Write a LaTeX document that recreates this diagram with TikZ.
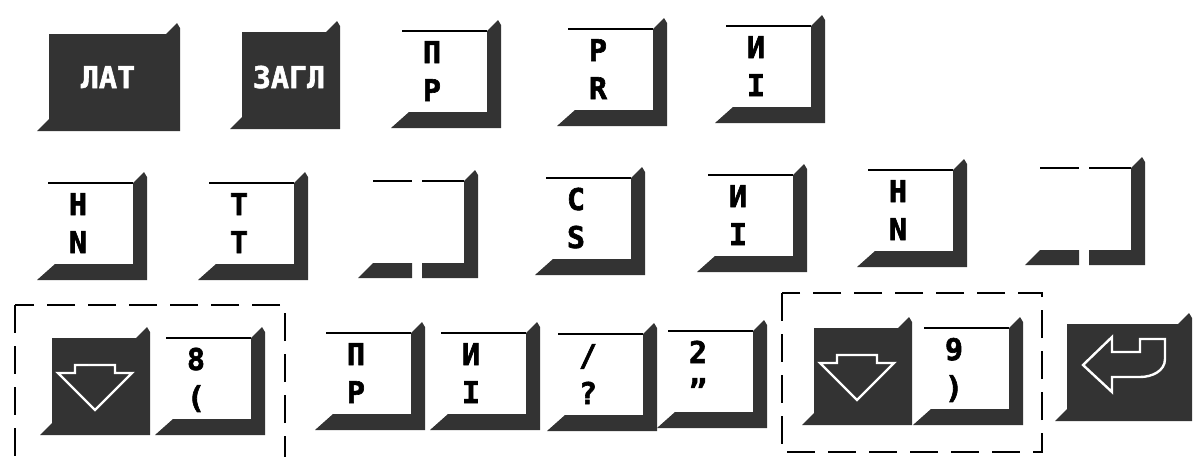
\documentclass[tikz,border=0pt]{standalone}
\usepackage{fontspec}
\newfontfamily\keyfont{DejaVu Sans Mono}[BoldFeatures={FakeBold=2}]
\tikzset{
  keyside/.style={fill=black!80},
  keyrim/.style={line width=1.8pt},
  keylabel/.style={font=\keyfont\bfseries\fontsize{30}{30}\selectfont,inner sep=0pt,text height=22pt,text depth=0pt},
  darklabel/.style={keylabel,text=white},
  arrowline/.style={draw=white,line width=2.4pt},
  groupbox/.style={line width=2.2pt,dash pattern=on 28pt off 13pt},
  pics/darkkey/.style={code={
    \fill[keyside] (-#1,0) -- (0,0) -- (0,-103) -- (-3,-108) -- (-14,-97) -- ({12-#1},-97) -- ({12-#1},-12) -- cycle;
  }},
  pics/lightkey/.style 2 args={code={
    \fill[keyside] (-110,0) -- (0,0) -- (0,-103) -- (-3,-108) -- (-14,-97) -- (-14,-16) -- (-92,-16) -- cycle;
    \draw[keyrim] (-99,-97) -- (-14,-97);
    \node[keylabel] (-top) at (-69,-76) {#1};
    \node[keylabel] (-bot) at (-69,-38) {#2};
  }},
  pics/splitkey/.style={code={
    \fill[keyside] (-120,0) -- (-66,0) -- (-66,-15) -- (-105,-15) -- cycle;
    \fill[keyside] (-56,0) -- (0,0) -- (0,-103) -- (-3,-108) -- (-14,-97) -- (-14,-15) -- (-56,-15) -- cycle;
    \draw[keyrim] (-105,-97) -- (-66,-97) (-56,-97) -- (-14,-97);
  }},
  pics/downkey/.style={code={
    \pic {darkkey=110};
    \draw[arrowline] (-75,-70) -- (-35,-70) -- (-35,-62) -- (-18,-62) -- (-55,-25) -- (-92,-62) -- (-75,-62) -- cycle;
  }},
  pics/enterkey/.style={code={
    \pic {darkkey=137};
    \draw[arrowline] (-109,-56) -- (-80,-84) -- (-80,-69) -- (-52,-69) -- (-52,-82) -- (-27,-82) -- (-27,-62)
      to[out=-90,in=0] (-52,-44) -- (-80,-44) -- (-80,-29) -- cycle;
  }}
}
\begin{document}
\begin{tikzpicture}[x=1pt,y=-1pt,line cap=butt,line join=miter]
\useasboundingbox (0,0) rectangle (1195,456);
\pic (lat) at (180,131) {darkkey=143};
\node[darklabel] (latname) at (108,77) {ЛАТ};
\pic (zagl) at (340,129) {darkkey=110};
\node[darklabel] (zaglname) at (289,77) {ЗАГЛ};
\pic (keyP) at (501,128) {lightkey={П}{P}};
\pic (keyR) at (667,126) {lightkey={Р}{R}};
\pic (keyI) at (825,123) {lightkey={И}{I}};
\pic (keyN) at (147,280) {lightkey={Н}{N}};
\pic (keyT) at (308,280) {lightkey={Т}{T}};
\pic (blankA) at (478,278) {splitkey};
\pic (keyS) at (645,275) {lightkey={С}{S}};
\pic (keyIb) at (807,272) {lightkey={И}{I}};
\pic (keyNb) at (967,267) {lightkey={Н}{N}};
\pic (blankB) at (1145,265) {splitkey};
\pic (downA) at (150,435) {downkey};
\pic (key8) at (265,435) {lightkey={8}{(}};
\pic (keyPb) at (425,430) {lightkey={П}{P}};
\pic (keyIc) at (540,430) {lightkey={И}{I}};
\pic (keyQ) at (657,431) {lightkey={/}{?}};
\pic (key2) at (767,428) {lightkey={2}{”}};
\pic (downB) at (912,425) {downkey};
\pic (key9) at (1023,425) {lightkey={9}{)}};
\pic (enter) at (1192,421) {enterkey};
\draw[groupbox] (15,305) rectangle (285,475);
\draw[groupbox] (782,293) rectangle (1042,452);
\end{tikzpicture}
\end{document}
